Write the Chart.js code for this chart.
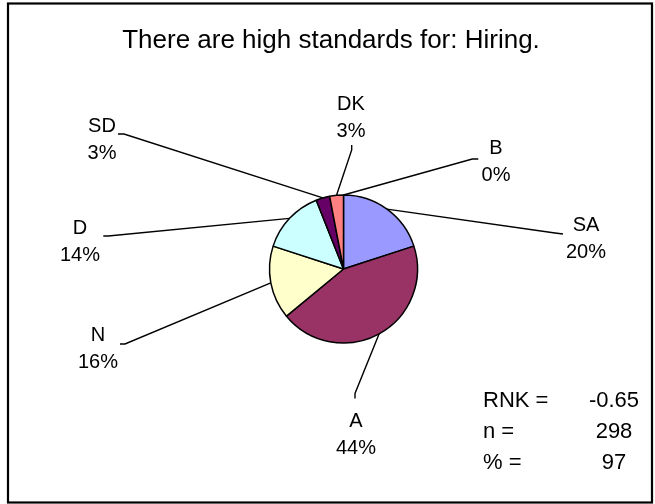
<!DOCTYPE html>
<html><head><meta charset="utf-8">
<script src="https://cdn.jsdelivr.net/npm/chart.js@4"></script>
<style>html,body{margin:0;padding:0;background:#fff;overflow:hidden}canvas{display:block}</style>
</head><body>
<canvas id="c" width="655" height="504"></canvas>
<script>
const chartTitle = "There are high standards for: Hiring.";
const categories = ["SA", "A", "N", "D", "SD", "DK", "B"];
const percents = [20, 44, 16, 14, 3, 3, 0];
const sliceColors = ["#9999FF", "#993366", "#FFFFCC", "#CCFFFF", "#660066", "#FF8080", "#0066CC"];
const statLabels = ["RNK =", "n =", "% ="];
const statValues = ["-0.65", "298", "97"];

const FONT = '"Liberation Sans", Arial, Helvetica, sans-serif';
// label placement relative to the pie centre (leader anchor, tick, text block centre)
const labelLayout = {
  SA: {ax: 219.5, ay: -35, tick: [-8, -1], tx: 242.5, ty: -32},
  A:  {ax: 11.5, ay: 129.5, tick: [0, -5], tx: 12.5, ty: 164},
  N:  {ax: -223.5, ay: 75, tick: [5, 0], tx: -245.5, ty: 78.5},
  D:  {ax: -240.2, ay: -33, tick: [5, 0], tx: -263.5, ty: -29},
  SD: {ax: -225.5, ay: -135, tick: [6, 0], tx: -241.5, ty: -131},
  DK: {ax: 8.2, ay: -124, tick: [0, 5], tx: 7.5, ty: -153},
  B:  {ax: 134.8, ay: -110, tick: [-6, 0], tx: 152.5, ty: -108.5}
};

const decor = {
  id: 'decor',
  afterDraw(chart) {
    const ctx = chart.ctx;
    ctx.save();
    // frame
    ctx.strokeStyle = '#000';
    ctx.lineWidth = 2.2;
    ctx.strokeRect(8, 3.5, 644, 499);
    // title
    ctx.fillStyle = '#000';
    ctx.font = '26px ' + FONT;
    ctx.textAlign = 'center';
    ctx.textBaseline = 'alphabetic';
    ctx.fillText(chartTitle, 331, 47.5);
    // leader lines + labels
    const meta = chart.getDatasetMeta(0);
    ctx.font = '20px ' + FONT;
    ctx.lineWidth = 1.4;
    meta.data.forEach((arc, i) => {
      const lay = labelLayout[categories[i]];
      const cx = arc.x, cy = arc.y;
      const mid = (arc.startAngle + arc.endAngle) / 2;
      const r = arc.outerRadius;
      const sx = cx + Math.cos(mid) * r, sy = cy + Math.sin(mid) * r;
      const axp = cx + lay.ax, ayp = cy + lay.ay;
      ctx.beginPath();
      ctx.moveTo(sx, sy);
      ctx.lineTo(axp + lay.tick[0], ayp + lay.tick[1]);
      ctx.lineTo(axp, ayp);
      ctx.stroke();
      const tx = cx + lay.tx, ty = cy + lay.ty;
      ctx.fillText(categories[i], tx, ty - 13.5 + 7.2);
      ctx.fillText(percents[i] + '%', tx, ty + 13.5 + 7.2);
    });
    // stats box
    ctx.font = '22px ' + FONT;
    const rows = [398.7, 430, 460.5];
    statLabels.forEach((s, i) => {
      ctx.textAlign = 'left';
      ctx.fillText(s, 483, rows[i] + 8);
      ctx.textAlign = 'center';
      ctx.fillText(statValues[i], 614, rows[i] + 8);
    });
    ctx.restore();
  }
};

new Chart(document.getElementById('c'), {
  type: 'pie',
  data: {
    labels: categories,
    datasets: [{
      data: percents,
      backgroundColor: sliceColors,
      borderColor: '#000',
      borderWidth: 1.5
    }]
  },
  options: {
    responsive: false,
    animation: false,
    layout: {padding: {left: 268.75, right: 236.75, top: 194.25, bottom: 160.25}},
    plugins: {legend: {display: false}, tooltip: {enabled: false}, title: {display: false}}
  },
  plugins: [decor]
});
</script>
</body></html>
